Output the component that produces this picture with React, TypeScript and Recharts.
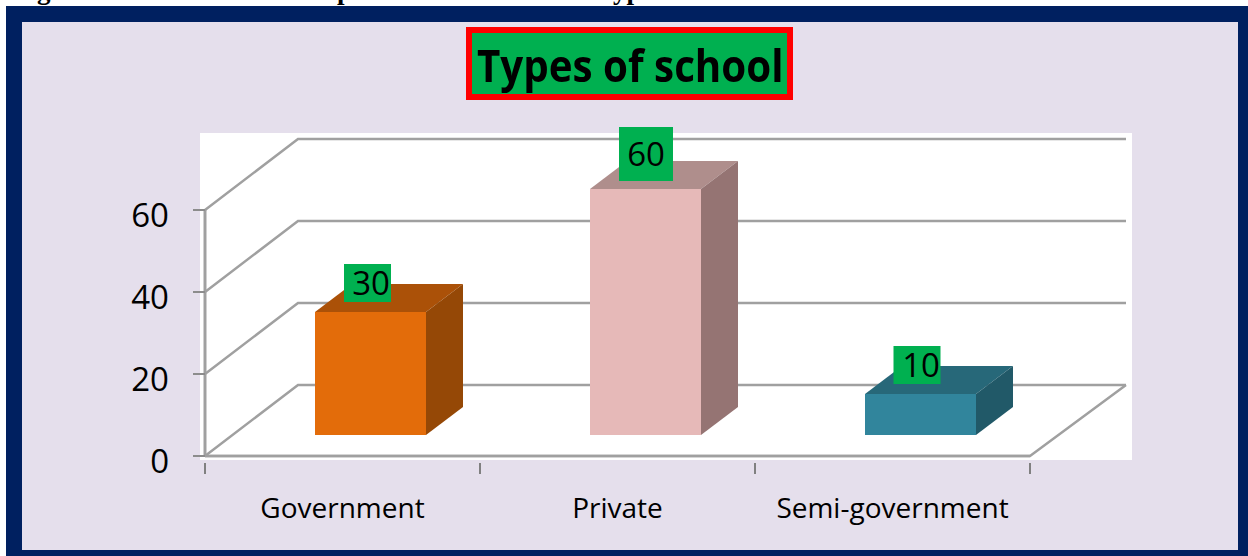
import { Bar, BarChart, CartesianGrid, LabelList, XAxis, YAxis } from "recharts"

// values
const categories = ["Government", "Private", "Semi-government"]
const schoolValues = [30, 60, 10]
const yTicks = [0, 20, 40, 60]

const chartData = categories.map((name, i) => ({ name, value: schoolValues[i] }))

const faceColors = [
  { front: "#E36C0A", top: "#AB5108", side: "#954806" },
  { front: "#E6B9B8", top: "#AF8E8C", side: "#957473" },
  { front: "#31859C", top: "#276879", side: "#215968" },
]

// label boxes are not all the same size in the source
const labelBoxes = [
  { w: 47, h: 38, gap: 10, dx: -3, textDx: 3.5 },
  { w: 54, h: 54, gap: 8, dx: 0.5, textDx: 0 },
  { w: 47, h: 38, gap: 10, dx: -3.5, textDx: 4 },
]

const FONT = "'Open Sans', sans-serif"
const GRID = "#A0A0A0"

// fake 3D: how far the back wall sits from the front of the floor
const WALL_DX = 93
const WALL_DY = 71
const WALL_RIGHT_DX = 96
// bars stand in the middle of the floor
const FLOOR_DX = 28
const FLOOR_DY = 21
// depth of each box
const BOX_DX = 37
const BOX_DY = 28

const PLOT_BOTTOM = 456
const HALF_BAND = 137.5

function WallGridLine(props: any) {
  const { x1, x2, y1 } = props
  const backY = y1 - WALL_DY
  return (
    <g style={{ filter: "blur(0.5px)" }}>
      <polyline
        points={`${x1},${y1} ${x1 + WALL_DX},${backY} ${x2 + WALL_RIGHT_DX},${backY}`}
        fill="none"
        stroke={GRID}
        strokeWidth={2.5}
      />
      {y1 >= PLOT_BOTTOM - 1 && (
        <polyline
          points={`${x1},${y1} ${x2},${y1} ${x2 + WALL_RIGHT_DX},${backY}`}
          fill="none"
          stroke={GRID}
          strokeWidth={2.5}
        />
      )}
    </g>
  )
}

function Box3D(props: any) {
  const { x, y, width, height, index } = props
  const c = faceColors[index]
  const left = x + FLOOR_DX
  const right = left + width
  const top = y - FLOOR_DY
  const bottom = top + height
  return (
    <g style={{ filter: "blur(0.5px)" }}>
      <polygon
        points={`${left},${top} ${left + BOX_DX},${top - BOX_DY} ${right + BOX_DX},${top - BOX_DY} ${right},${top}`}
        fill={c.top}
      />
      <polygon
        points={`${right},${top} ${right + BOX_DX},${top - BOX_DY} ${right + BOX_DX},${bottom - BOX_DY} ${right},${bottom}`}
        fill={c.side}
      />
      <rect x={left} y={top} width={width} height={height} fill={c.front} />
    </g>
  )
}

function ValueLabel(props: any) {
  const { x, y, width, value, index } = props
  const box = labelBoxes[index]
  const cx = x + FLOOR_DX + width / 2 + box.dx
  const boxTop = y - FLOOR_DY - box.gap - box.h
  return (
    <g>
      <rect x={cx - box.w / 2} y={boxTop} width={box.w} height={box.h} fill="#00B050" />
      <text x={cx + box.textDx} y={boxTop + box.h / 2 + 12} textAnchor="middle" fontFamily={FONT} fontSize={33} fill="#000">
        {value}
      </text>
    </g>
  )
}

function CategoryTick(props: any) {
  const { x, y, payload } = props
  return (
    <g>
      <line x1={x - HALF_BAND} x2={x - HALF_BAND} y1={y - 1} y2={y + 10} stroke="#808080" strokeWidth={2} />
      <line x1={x + HALF_BAND} x2={x + HALF_BAND} y1={y - 1} y2={y + 10} stroke="#808080" strokeWidth={2} />
      <text x={x} y={518} textAnchor="middle" fontFamily={FONT} fontSize={28} fill="#000">
        {payload.value}
      </text>
    </g>
  )
}

export default function App() {
  return (
    <div style={{ position: "absolute", left: 0, top: 0, width: 1248, height: 556, background: "#fff", overflow: "hidden" }}>
      {/* caption of the page above, cut off by the frame */}
      <div style={{ fontFamily: "'Liberation Serif', serif", fontWeight: 700, fontSize: 27, lineHeight: "30px", color: "#000" }}>
        <span style={{ position: "absolute", left: 13, top: -25 }}>Fig</span>
        <span style={{ position: "absolute", left: 337, top: -25 }}>p</span>
        <span style={{ position: "absolute", left: 597, top: -25 }}>Typ</span>
      </div>

      <div style={{ position: "absolute", left: 6, top: 6, width: 1242, height: 550, background: "#002060" }} />
      <div style={{ position: "absolute", left: 22, top: 22, width: 1216, height: 528, background: "#E5DFEC" }} />
      <div style={{ position: "absolute", left: 200, top: 133, width: 932, height: 327, background: "#fff" }} />

      <div
        style={{
          position: "absolute",
          left: 466,
          top: 27,
          width: 327,
          height: 73,
          boxSizing: "border-box",
          border: "6px solid #FF0000",
          background: "#00B050",
          whiteSpace: "nowrap",
        }}
      >
        <span
          style={{
            position: "absolute",
            left: 5,
            top: 2,
            fontFamily: FONT,
            fontWeight: 700,
            fontSize: 44,
            lineHeight: "60px",
            color: "#000",
            transform: "scaleX(0.916)",
            transformOrigin: "left center",
          }}
        >
          Types of school
        </span>
      </div>

      <div style={{ position: "absolute", left: 0, top: 0 }}>
        <BarChart
          width={1248}
          height={556}
          data={chartData}
          margin={{ top: 210, right: 218, bottom: 0, left: 125 }}
          style={{ overflow: "visible" }}
        >
          <CartesianGrid vertical={false} horizontal={<WallGridLine />} />
          <XAxis
            dataKey="name"
            axisLine={{ stroke: GRID, strokeWidth: 2.5 }}
            tickLine={false}
            tick={<CategoryTick />}
            interval={0}
            height={100}
          />
          <YAxis
            width={80}
            domain={[0, 60]}
            ticks={yTicks}
            axisLine={{ stroke: GRID, strokeWidth: 3 }}
            tickLine={{ stroke: "#8C8C8C", strokeWidth: 2 }}
            tickSize={12}
            tickMargin={24}
            tick={{ fontFamily: FONT, fontSize: 33, fill: "#000", dy: 5 }}
          />
          <Bar dataKey="value" barSize={111} shape={<Box3D />} isAnimationActive={false}>
            <LabelList dataKey="value" content={<ValueLabel />} />
          </Bar>
        </BarChart>
      </div>
    </div>
  )
}
